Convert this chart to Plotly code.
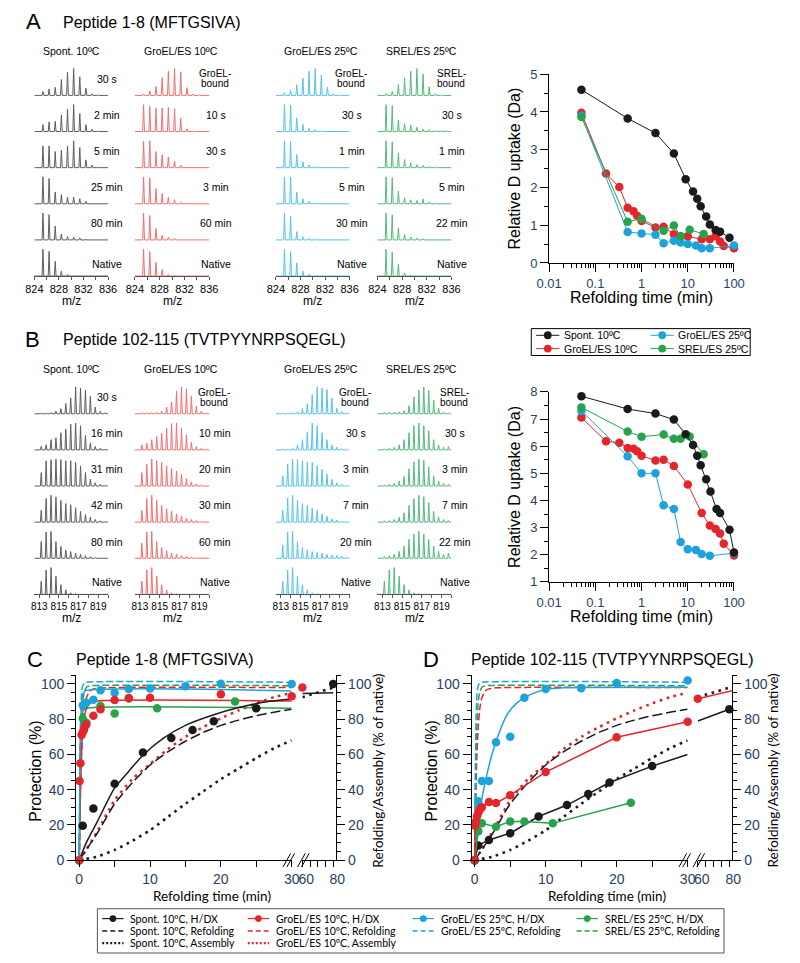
import plotly.graph_objects as go

W, H = 800, 963
ARIAL = "Liberation Sans, Arial, Helvetica, sans-serif"
HUM = "Lato, Open Sans, sans-serif"

# ---------------- spectra data (panels A, B) ----------------
MZ_A = [825.4, 826.4, 827.4, 828.4, 829.4, 830.4, 831.4, 832.4, 833.4, 834.4, 835.4]
MZ_B = [813.2, 813.7, 814.2, 814.7, 815.2, 815.7, 816.2, 816.7, 817.2, 817.7, 818.2, 818.7, 819.2, 819.7]
MZ_A_TICKS = [824, 826, 828, 830, 832, 834, 836]
MZ_A_TICKTEXT = ["824", "", "828", "", "832", "", "836"]
MZ_B_TICKS = [813, 814, 815, 816, 817, 818, 819, 820]
MZ_B_TICKTEXT = ["813", "", "815", "", "817", "", "819", ""]
CONDITIONS = ["Spont. 10ºC", "GroEL/ES 10ºC", "GroEL/ES 25ºC", "SREL/ES 25ºC"]

A_SPONT = [
    [0.15, 0.24, 0.30, 0.59, 0.87, 1.00, 0.69, 0.27, 0.06, 0.02],
    [0.26, 0.36, 0.38, 0.62, 0.83, 1.00, 0.67, 0.26, 0.09, 0.02],
    [0.81, 0.81, 0.60, 0.65, 0.81, 1.00, 0.75, 0.29, 0.10, 0.02],
    [1.00, 0.94, 0.44, 0.34, 0.25, 0.25, 0.19, 0.09, 0.02],
    [1.00, 0.94, 0.52, 0.22, 0.12, 0.10, 0.07, 0.02],
    [1.00, 0.92, 0.55, 0.18, 0.06, 0.02],
]
A_GRO10 = [
    [0.05, 0.17, 0.33, 0.66, 0.90, 1.00, 0.88, 0.29, 0.05, 0.02],
    [1.00, 0.94, 0.88, 0.88, 0.90, 0.85, 0.50, 0.10, 0.03],
    [0.98, 1.00, 0.60, 0.48, 0.40, 0.25, 0.09, 0.02],
    [1.00, 0.96, 0.56, 0.38, 0.25, 0.15, 0.06, 0.02],
    [1.00, 0.91, 0.43, 0.18, 0.10, 0.06, 0.02],
    [1.00, 0.91, 0.51, 0.24, 0.06, 0.02],
]
A_GRO25 = [
    [0.10, 0.19, 0.40, 0.65, 0.90, 1.00, 0.75, 0.31, 0.06, 0.02],
    [1.00, 0.98, 0.51, 0.27, 0.12, 0.07, 0.03],
    [1.00, 0.98, 0.49, 0.22, 0.10, 0.05, 0.02],
    [1.00, 1.00, 0.44, 0.19, 0.09, 0.04],
    [1.00, 0.88, 0.31, 0.12, 0.05, 0.03],
    [1.00, 0.91, 0.49, 0.18, 0.06],
]
A_SREL = [
    [0.06, 0.15, 0.41, 0.64, 0.90, 1.00, 0.80, 0.32, 0.06, 0.02],
    [1.00, 0.96, 0.43, 0.29, 0.23, 0.16, 0.09, 0.07, 0.05, 0.04, 0.03],
    [1.00, 0.96, 0.54, 0.30, 0.18, 0.11, 0.08, 0.05, 0.04],
    [1.00, 0.97, 0.48, 0.22, 0.15, 0.12, 0.18, 0.07, 0.04],
    [1.00, 0.93, 0.45, 0.20, 0.11, 0.07, 0.05],
    [1.00, 0.90, 0.44, 0.12, 0.04],
]
A_SPONT_LAB = ["30 s", "2 min", "5 min", "25 min", "80 min", "Native"]
A_GRO10_LAB = ["GroEL-\nbound", "10 s", "30 s", "3 min", "60 min", "Native"]
A_GRO25_LAB = ["GroEL-\nbound", "30 s", "1 min", "5 min", "30 min", "Native"]
A_SREL_LAB = ["SREL-\nbound", "30 s", "1 min", "5 min", "22 min", "Native"]

B_SPONT = [
    [0.03, 0.03, 0.05, 0.10, 0.19, 0.38, 0.59, 1.00, 0.96, 0.88, 0.65, 0.25, 0.09, 0.04],
    [0.13, 0.19, 0.38, 0.45, 0.64, 0.77, 0.96, 1.00, 0.90, 0.54, 0.26, 0.13, 0.06, 0.03],
    [0.50, 0.94, 0.98, 1.00, 0.98, 0.94, 0.94, 0.88, 0.75, 0.50, 0.25, 0.12, 0.06, 0.03],
    [0.44, 0.88, 1.00, 0.94, 0.81, 0.69, 0.65, 0.54, 0.40, 0.28, 0.19, 0.10, 0.05, 0.03],
    [0.62, 0.98, 1.00, 0.62, 0.44, 0.31, 0.25, 0.19, 0.15, 0.10, 0.06, 0.03],
    [0.49, 0.91, 1.00, 0.68, 0.36, 0.17, 0.06, 0.03],
]
B_GRO10 = [
    [0.04, 0.04, 0.05, 0.06, 0.10, 0.25, 0.44, 0.84, 1.00, 0.93, 0.65, 0.28, 0.10, 0.04],
    [0.19, 0.25, 0.38, 0.50, 0.62, 0.81, 0.98, 1.00, 0.81, 0.56, 0.28, 0.12, 0.06, 0.03],
    [0.50, 0.81, 1.00, 0.94, 0.88, 0.75, 0.65, 0.56, 0.44, 0.28, 0.15, 0.08, 0.04],
    [0.44, 0.88, 1.00, 0.81, 0.62, 0.50, 0.41, 0.31, 0.22, 0.15, 0.10, 0.06, 0.03],
    [0.56, 0.98, 1.00, 0.62, 0.40, 0.28, 0.20, 0.15, 0.11, 0.08, 0.05, 0.03],
    [0.49, 0.91, 1.00, 0.68, 0.36, 0.17, 0.06, 0.03],
]
B_GRO25 = [
    [0.03, 0.04, 0.05, 0.08, 0.19, 0.38, 0.71, 1.00, 0.96, 0.90, 0.59, 0.21, 0.08, 0.04],
    [0.04, 0.04, 0.06, 0.19, 0.38, 0.67, 1.00, 0.90, 0.64, 0.38, 0.19, 0.10, 0.05, 0.03],
    [0.38, 0.81, 1.00, 0.98, 0.94, 0.90, 0.88, 0.75, 0.62, 0.44, 0.25, 0.12, 0.06, 0.03],
    [0.44, 0.90, 1.00, 0.81, 0.69, 0.62, 0.52, 0.44, 0.31, 0.22, 0.12, 0.08, 0.04],
    [0.50, 0.98, 1.00, 0.62, 0.40, 0.31, 0.25, 0.22, 0.19, 0.15, 0.12, 0.10, 0.08, 0.05],
    [0.49, 0.91, 1.00, 0.68, 0.36, 0.17, 0.06, 0.03],
]
B_SREL = [
    [0.06, 0.06, 0.06, 0.07, 0.12, 0.30, 0.63, 0.88, 1.00, 0.88, 0.51, 0.21, 0.07, 0.04],
    [0.04, 0.06, 0.10, 0.19, 0.38, 0.64, 0.90, 1.00, 0.90, 0.71, 0.38, 0.19, 0.10, 0.12],
    [0.04, 0.06, 0.10, 0.19, 0.36, 0.64, 0.90, 1.00, 0.96, 0.71, 0.38, 0.19, 0.10, 0.06],
    [0.05, 0.06, 0.10, 0.18, 0.35, 0.62, 0.88, 1.00, 0.95, 0.72, 0.40, 0.20, 0.10, 0.06],
    [0.06, 0.10, 0.15, 0.26, 0.45, 0.70, 0.90, 1.00, 0.90, 0.70, 0.45, 0.26, 0.15, 0.19],
    [0.49, 0.91, 1.00, 0.68, 0.36, 0.17, 0.06, 0.03],
]
B_SPONT_LAB = ["30 s", "16 min", "31 min", "42 min", "80 min", "Native"]
B_GRO10_LAB = ["GroEL-\nbound", "10 min", "20 min", "30 min", "60 min", "Native"]
B_GRO25_LAB = ["GroEL-\nbound", "30 s", "3 min", "7 min", "20 min", "Native"]
B_SREL_LAB = ["SREL-\nbound", "30 s", "3 min", "7 min", "22 min", "Native"]

# ---------------- D uptake vs time (panel A right, panel B right) ----------------
LOG_TICKS = [0.01, 0.1, 1, 10, 100]
LOG_TICKTEXT = ["0.01", "0.1", "1", "10", "100"]
LOG_MINOR = [0.02, 0.03, 0.04, 0.05, 0.06, 0.07, 0.08, 0.09,
             0.2, 0.3, 0.4, 0.5, 0.6, 0.7, 0.8, 0.9,
             2, 3, 4, 5, 6, 7, 8, 9, 20, 30, 40, 50, 60, 70, 80, 90]

TA_SP = [0.05, 0.5, 2, 5, 9, 13, 16, 19, 25, 30, 40, 50, 80]
DA_SP = [4.59, 3.83, 3.44, 2.90, 2.22, 1.89, 1.70, 1.50, 1.23, 1.02, 0.87, 0.83, 0.67]
TA_G10 = [0.05, 0.17, 0.33, 0.5, 0.67, 0.8, 1, 2, 3, 5, 7, 10, 20, 30, 40, 50, 60, 100]
DA_G10 = [3.98, 2.37, 2.01, 1.46, 1.37, 1.25, 1.11, 0.94, 0.96, 0.76, 0.71, 0.70, 0.63, 0.63, 0.71, 0.57, 0.45, 0.39]
TA_G25 = [0.05, 0.5, 1, 2, 3, 5, 7, 10, 15, 20, 30, 100]
DA_G25 = [3.90, 0.82, 0.78, 0.75, 0.52, 0.59, 0.54, 0.50, 0.46, 0.39, 0.39, 0.46]
TA_SR = [0.05, 0.5, 1, 3, 5, 7, 11, 22]
DA_SR = [3.87, 1.09, 1.17, 0.85, 0.99, 0.70, 0.88, 0.77]

TB_SP = [0.05, 0.5, 2, 5, 9, 13, 16, 19, 25, 31, 42, 50, 80, 100]
DB_SP = [7.84, 7.37, 7.20, 6.98, 6.44, 6.04, 5.65, 5.30, 4.78, 4.33, 3.69, 3.54, 2.92, 2.08]
TB_G10 = [0.05, 0.17, 0.33, 0.5, 0.67, 0.8, 1, 2, 3, 5, 10, 20, 30, 40, 50, 60, 100]
DB_G10 = [7.06, 6.18, 6.13, 5.93, 5.91, 5.81, 5.65, 5.47, 5.50, 5.27, 4.59, 3.54, 3.08, 2.95, 2.78, 2.41, 1.97]
TB_G25 = [0.05, 0.5, 1, 2, 3, 5, 7, 10, 15, 20, 30, 100]
DB_G25 = [7.30, 5.63, 5.00, 5.00, 3.82, 3.69, 2.47, 2.20, 2.18, 2.03, 1.96, 2.06]
TB_SR = [0.05, 0.5, 1, 3, 5, 7, 11, 22]
DB_SR = [7.43, 6.54, 6.35, 6.43, 6.27, 6.27, 6.36, 5.70]

# ---------------- protection / refolding (panels C, D) ----------------
REF_SP_T = [0, 2.5, 5, 7.5, 10, 12.5, 15, 17.5, 20, 22.5, 25, 27.5, 30]
REF_SP_P = [0, 15, 32, 44, 54, 61.5, 67.5, 72.5, 76.5, 79.5, 82, 84, 85.7]
REF_G10_T = [0, 0.25, 0.5, 0.75, 1.0, 1.5, 2.0, 3.0, 30]
REF_G10_P = [0, 52, 76, 87, 92, 96, 97.2, 97.8, 98]
REF_G25_T = [0, 0.1, 0.2, 0.3, 0.45, 0.7, 1.0, 30]
REF_G25_P = [0, 55, 82, 93, 98.5, 100.5, 101, 101]
REF_SR_T = [0, 0.15, 0.3, 0.5, 0.75, 1.1, 1.6, 30]
REF_SR_P = [0, 50, 76, 90, 96, 98.5, 99, 99]
ASM_SP_T = [0, 2.5, 5, 7.5, 10, 12.5, 15, 17.5, 20, 22.5, 25, 27.5, 30]
ASM_SP_P = [0, 2, 5.8, 11, 17, 24.5, 32, 39, 46, 52, 58, 63.5, 68]
ASM_SP_T2 = [60, 82]
ASM_SP_P2 = [92.5, 98.5]
ASM_G10_T = [0, 1, 2.5, 5, 7.5, 10, 12.5, 15, 17.5, 20, 22.5, 25, 27.5, 30]
ASM_G10_P = [0, 6, 16, 34, 46, 54.5, 63, 70, 75.5, 80.5, 85, 89, 92.5, 95]

C_SP_T = [0, 0.5, 2, 5, 9, 13, 16, 19, 25]
C_SP_P = [0, 19.6, 29.4, 43.4, 61.1, 69.3, 73.9, 78.8, 86.2]
C_SP_T2 = [80]
C_SP_P2 = [100]
C_G10_T = [0, 0.05, 0.17, 0.33, 0.5, 0.67, 0.8, 1, 2, 3, 5, 7, 10, 20, 30]
C_G10_P = [0, 45, 55, 71, 72.6, 74, 76, 77, 82, 85.7, 90.9, 92, 92.2, 94.2, 93]
C_G10_T2 = [60]
C_G10_P2 = [98]
C_G25_T = [0, 0.5, 1, 2, 3, 5, 7, 10, 15, 20, 30]
C_G25_P = [0, 88, 89.4, 91, 96.5, 95, 97.2, 97.4, 98.7, 100.2, 100]
C_SR_T = [0, 0.5, 1, 3, 5, 7, 11, 22]
C_SR_P = [0, 80.4, 78, 87.5, 83.2, 91.8, 86.2, 90]
FIT_C_SP_T = [0, 1, 2.5, 5, 7, 9, 12, 15, 19, 22.5, 26, 30]
FIT_C_SP_P = [0, 10, 21.5, 41, 50.5, 59.6, 69.5, 76.5, 82.5, 86.6, 89.6, 91.6]
FIT_C_SP_T2 = [60, 80]
FIT_C_SP_P2 = [94.6, 95]
FIT_C_G10_T = [0, 0.15, 0.3, 0.5, 0.75, 1.0, 1.5, 2.2, 30]
FIT_C_G10_P = [0, 35, 58, 74, 82, 86, 89, 90.2, 90.3]
FIT_C_G25_T = [0, 0.1, 0.2, 0.35, 0.5, 0.8, 30]
FIT_C_G25_P = [0, 50, 78, 90, 94, 96, 96]
FIT_C_SR_T = [0, 0.1, 0.2, 0.35, 0.5, 0.8, 30]
FIT_C_SR_P = [0, 45, 70, 81, 84.5, 86, 86.2]

D_SP_T = [0, 0.5, 2, 5, 9, 13, 16, 19, 25]
D_SP_P = [0, 8.4, 11.5, 15.3, 24.8, 31.3, 37.6, 44.1, 53.4]
D_SP_EXT_T = [25, 30]
D_SP_EXT_P = [53.4, 60]
D_SP_LINE_T2 = [60, 80]
D_SP_LINE_P2 = [79, 85.7]
D_SP_T2 = [80]
D_SP_P2 = [85.7]
D_G10_T = [0, 0.05, 0.17, 0.33, 0.5, 0.67, 0.8, 1, 2, 3, 5, 10, 20, 30]
D_G10_P = [0, 19.6, 22, 25, 27, 28.5, 29.5, 30, 33, 32.4, 36.9, 50, 69.8, 78.6]
D_G10_LINE_T2 = [60, 100]
D_G10_LINE_P2 = [91.6, 100]
D_G10_T2 = [60]
D_G10_P2 = [91.6]
D_G25_T = [0, 0.5, 1, 2, 3, 5, 7, 10, 15, 20, 30]
D_G25_P = [0, 33.5, 45, 45, 67, 70, 92.2, 97.2, 97.6, 100.6, 102]
FIT_D_G25_T = [0, 0.3, 0.8, 1.5, 2.4, 3.3, 4.6, 6, 7.8, 10, 12.5, 15, 30]
FIT_D_G25_P = [0, 15, 30, 44.7, 59.6, 70.8, 82.9, 89.4, 94, 96.8, 97.8, 98, 98.1]
D_SR_T = [0, 0.5, 1, 3, 5, 7, 11, 22]
D_SR_P = [0, 16.4, 20.9, 19, 22, 22, 20.9, 32.6]

LEG_BOTTOM = [
    ["Spont. 10ºC, H/DX", "Spont. 10ºC, Refolding", "Spont. 10ºC, Assembly"],
    ["GroEL/ES 10ºC, H/DX", "GroEL/ES 10ºC, Refolding", "GroEL/ES 10ºC, Assembly"],
    ["GroEL/ES 25ºC, H/DX", "GroEL/ES 25ºC, Refolding"],
    ["SREL/ES 25ºC, H/DX", "SREL/ES 25ºC, Refolding"],
]

# ---------------- styling ----------------
BLACK, RED, BLUE, GREEN = "#1a1a1a", "#e3262b", "#1ea2dc", "#26a34b"
SPEC_COLORS = ["#5e5e5e", "#ee6f70", "#55c3e8", "#55b97d"]
DASH_LONG = "10px,4px"
DASH_COL = "7px,3px"
DOT = "2.6px,4.6px"

layout = dict(width=W, height=H, margin=dict(l=0, r=0, t=0, b=0),
              paper_bgcolor="white", plot_bgcolor="rgba(0,0,0,0)", showlegend=False)
annotations, shapes = [], []
fig = go.Figure()


def px_x(x):
    return x / W


def px_y(y):
    return 1 - y / H


def an(n):
    return "" if n == 1 else str(n)


def ann(text, x, y, size, family=ARIAL, xanchor="center", yanchor="middle", angle=0, color="black"):
    annotations.append(dict(text=text, x=px_x(x), y=px_y(y), xref="paper", yref="paper",
                            showarrow=False, xanchor=xanchor, yanchor=yanchor, textangle=angle,
                            font=dict(size=size, family=family, color=color)))


AX = dict(showgrid=False, zeroline=False, showline=True, linecolor="black", linewidth=1,
          ticks="outside", tickcolor="black", tickwidth=1, fixedrange=True, tickangle=0)


def scatter(xs, ys, xa, ya, mode, color, width=1.0, dash="solid", msize=8, shape="linear"):
    fig.add_trace(go.Scatter(
        x=xs, y=ys, xaxis="x" + an(xa), yaxis="y" + an(ya), mode=mode,
        line=dict(color=color, width=width, dash=dash, shape=shape, smoothing=0.6),
        marker=dict(size=msize, color=color, line=dict(width=0)),
        cliponaxis=False, hoverinfo="skip", showlegend=False))


# ---------------- spectra ----------------
SPACING = 36.7
PEAK_H = 27.3
YSPAN = 223.3
COL_X = [(22, 98), (125.7, 202.3), (271, 347), (375.7, 452)]
TITLE_X = [60, 173.3, 318, 421]


def spectrum_xy(mz, inten, base, lo, hi, w):
    xs, ys = [lo], [base]
    for m, h in zip(mz, inten):
        xs += [m - w, m, m + w]
        ys += [base, base + h * PEAK_H, base]
    xs.append(hi)
    ys.append(base)
    return xs, ys


spec_panels = [
    dict(sets=[A_SPONT, A_GRO10, A_GRO25, A_SREL],
         labs=[A_SPONT_LAB, A_GRO10_LAB, A_GRO25_LAB, A_SREL_LAB],
         mz=MZ_A, rng=[824, 836], tv=MZ_A_TICKS, tt=MZ_A_TICKTEXT, bottom=273.3, tfs=11,
         labx=[96.5, 209, 349.5, 453], title_y=45, w=0.14, mz_y=298.5),
    dict(sets=[B_SPONT, B_GRO10, B_GRO25, B_SREL],
         labs=[B_SPONT_LAB, B_GRO10_LAB, B_GRO25_LAB, B_SREL_LAB],
         mz=MZ_B, rng=[812.5, 820], tv=MZ_B_TICKS, tt=MZ_B_TICKTEXT, bottom=596.7, tfs=10,
         labx=[96.5, 208, 353.5, 456], title_y=368, w=0.085, mz_y=621),
]

n = 0
for P in spec_panels:
    for c in range(4):
        n += 1
        x0, x1 = COL_X[c]
        layout["xaxis" + an(n)] = dict(AX, domain=[px_x(x0), px_x(x1)], range=P["rng"],
                                       anchor="y" + an(n), tickvals=P["tv"], ticktext=P["tt"],
                                       ticklen=3, linecolor="#555", tickcolor="#555",
                                       tickfont=dict(size=P["tfs"], family=ARIAL, color="black"))
        layout["yaxis" + an(n)] = dict(domain=[px_y(P["bottom"]), px_y(P["bottom"] - YSPAN)],
                                       range=[0, YSPAN], visible=False, anchor="x" + an(n),
                                       fixedrange=True)
        for i, inten in enumerate(P["sets"][c]):
            base = (5 - i) * SPACING
            xs, ys = spectrum_xy(P["mz"], inten, base, P["rng"][0], P["rng"][1], P["w"])
            scatter(xs, ys, n, n, "lines", SPEC_COLORS[c], width=1.0)
            lab = P["labs"][c][i]
            by = P["bottom"] - base
            if "\n" in lab:
                l1, l2 = lab.split("\n")
                ann(l1, P["labx"][c] - 1, by - 22, 10)
                ann(l2, P["labx"][c] - 1, by - 11.8, 10)
            elif i == 5:
                ann(lab, P["labx"][c], by - 12.5, 10.5)
            else:
                ann(lab, P["labx"][c], by - 17, 10.5)
        ann(CONDITIONS[c], TITLE_X[c], P["title_y"], 10.5)
        ann("m/z", (x0 + x1) / 2, P["mz_y"], 12)

# ---------------- D-uptake plots ----------------
for (na, ylo, yhi, ybot, ytop, series) in [
    (9, 0, 5, 260, 68.3, [(TA_G10, DA_G10, RED), (TA_G25, DA_G25, BLUE), (TA_SR, DA_SR, GREEN), (TA_SP, DA_SP, BLACK)]),
    (10, 1, 8, 584, 391, [(TB_G10, DB_G10, RED), (TB_G25, DB_G25, BLUE), (TB_SR, DB_SR, GREEN), (TB_SP, DB_SP, BLACK)]),
]:
    layout["xaxis" + an(na)] = dict(AX, type="log", domain=[px_x(552.7), px_x(743.3)], range=[-2, 2],
                                    anchor="y" + an(na), tickvals=LOG_TICKS, ticktext=LOG_TICKTEXT,
                                    ticklen=8, tickfont=dict(size=13, family=ARIAL),
                                    minor=dict(tickvals=LOG_MINOR, ticks="outside", ticklen=4,
                                               tickcolor="black"))
    layout["yaxis" + an(na)] = dict(AX, domain=[px_y(ybot), px_y(ytop)], range=[ylo, yhi],
                                    anchor="x" + an(na), dtick=1, ticklen=8,
                                    tickfont=dict(size=13, family=ARIAL),
                                    minor=dict(dtick=0.5, ticks="outside", ticklen=4, tickcolor="black"))
    for (t, d, col) in series:
        scatter(t, d, na, na, "lines+markers", col, width=1.0, msize=8.5)
    ann("Relative D uptake (Da)", 517.5, (ybot + ytop) / 2, 16, angle=-90)
    ann("Refolding time (min)", 648, ybot + 35, 16)

shapes.append(dict(type="rect", xref="paper", yref="paper", x0=px_x(534.3), x1=px_x(760),
                   y0=px_y(354), y1=px_y(326.7), line=dict(color="black", width=1)))


def leg_line(x0, x1, y, color, width=1.0, dash="solid"):
    shapes.append(dict(type="line", xref="paper", yref="paper", x0=px_x(x0), x1=px_x(x1),
                       y0=px_y(y), y1=px_y(y), line=dict(color=color, width=width, dash=dash)))


def leg_dot(cx, cy, r, color):
    shapes.append(dict(type="circle", xref="paper", yref="paper", x0=px_x(cx - r), x1=px_x(cx + r),
                       y0=px_y(cy + r), y1=px_y(cy - r), fillcolor=color, line=dict(width=0)))


AB_ITEMS = [(CONDITIONS[0], BLACK, 0, 0), (CONDITIONS[2], BLUE, 1, 0),
            (CONDITIONS[1], RED, 0, 1), (CONDITIONS[3], GREEN, 1, 1)]
for (lab, col, cx, ry) in AB_ITEMS:
    gx = [539.3, 657.3][cx]
    y = [333.5, 347][ry]
    leg_line(gx, gx + 24, y, col, 1.0)
    leg_dot(gx + 12, y, 4, col)
    ann(lab, gx + 26.5, y, 10.5, xanchor="left")

# ---------------- panels C and D ----------------
Y_BOT, PXPU = 866.7, 1.79
Y_TOP = Y_BOT - 105 * PXPU
X_TICKS_L = [0, 5, 10, 15, 20, 25, 30]
X_TICKTEXT_L = ["0", "", "10", "", "20", "", "30"]
X_TICKS_R = [60, 65, 70, 75, 80]
X_TICKTEXT_R = ["60", "", "", "", "80"]


def cd_axes(xl, xr, yl, yr, lx0, lx1, rx0, rx1):
    tf = dict(size=14, family=ARIAL)
    layout["xaxis" + an(xl)] = dict(AX, domain=[px_x(lx0), px_x(lx1)], range=[-0.45, 30],
                                    anchor="y" + an(yl), tickvals=X_TICKS_L, ticktext=X_TICKTEXT_L,
                                    ticklen=6, tickfont=tf)
    layout["xaxis" + an(xr)] = dict(AX, domain=[px_x(rx0), px_x(rx1)], range=[60, 82],
                                    anchor="y" + an(yl), tickvals=X_TICKS_R, ticktext=X_TICKTEXT_R,
                                    ticklen=6, tickfont=tf, ticklabelshift=4)
    ycommon = dict(AX, range=[0, 105], tickvals=[0, 20, 40, 60, 80, 100], ticklen=8, tickfont=tf,
                   minor=dict(dtick=5, ticks="outside", ticklen=4, tickcolor="black"))
    layout["yaxis" + an(yl)] = dict(ycommon, domain=[px_y(Y_BOT), px_y(Y_TOP)], anchor="x" + an(xl))
    layout["yaxis" + an(yr)] = dict(ycommon, overlaying="y" + an(yl), anchor="x" + an(xr), side="right")
    for xc in (lx1 - 3, rx0 + 1):
        for off in (-2, 2):
            shapes.append(dict(type="line", xref="paper", yref="paper",
                               x0=px_x(xc + off - 4), x1=px_x(xc + off + 4),
                               y0=px_y(Y_BOT + 7), y1=px_y(Y_BOT - 7),
                               line=dict(color="black", width=1)))


def common_curves(xl, xr, yl):
    scatter(ASM_SP_T, ASM_SP_P, xl, yl, "lines", BLACK, width=2.6, dash=DOT, shape="spline")
    scatter(ASM_SP_T2, ASM_SP_P2, xr, yl, "lines", BLACK, width=2.6, dash=DOT)
    scatter(ASM_G10_T, ASM_G10_P, xl, yl, "lines", RED, width=2.6, dash=DOT, shape="spline")
    scatter(REF_SP_T, REF_SP_P, xl, yl, "lines", BLACK, width=1.5, dash=DASH_LONG, shape="spline")
    scatter(REF_G10_T, REF_G10_P, xl, yl, "lines", RED, width=1.5, dash=DASH_COL, shape="spline")
    scatter(REF_SR_T, REF_SR_P, xl, yl, "lines", GREEN, width=1.5, dash=DASH_COL, shape="spline")
    scatter(REF_G25_T, REF_G25_P, xl, yl, "lines", BLUE, width=1.5, dash=DASH_COL, shape="spline")


cd_axes(11, 12, 11, 12, 65, 287.3, 298.3, 333.3)
common_curves(11, 12, 11)
scatter(FIT_C_SR_T, FIT_C_SR_P, 11, 11, "lines", GREEN, width=1.5, shape="spline")
scatter(FIT_C_G10_T, FIT_C_G10_P, 11, 11, "lines", RED, width=1.5, shape="spline")
scatter(FIT_C_G25_T, FIT_C_G25_P, 11, 11, "lines", BLUE, width=1.5, shape="spline")
scatter(FIT_C_SP_T, FIT_C_SP_P, 11, 11, "lines", BLACK, width=1.5, shape="spline")
scatter(FIT_C_SP_T2, FIT_C_SP_P2, 12, 11, "lines", BLACK, width=1.5)
scatter(C_SP_T, C_SP_P, 11, 11, "markers", BLACK, msize=8.5)
scatter(C_SP_T2, C_SP_P2, 12, 12, "markers", BLACK, msize=8.5)
scatter(C_G25_T, C_G25_P, 11, 11, "markers", BLUE, msize=8.5)
scatter(C_SR_T, C_SR_P, 11, 11, "markers", GREEN, msize=8.5)
scatter(C_G10_T, C_G10_P, 11, 11, "markers", RED, msize=8.5)
scatter(C_G10_T2, C_G10_P2, 12, 11, "markers", RED, msize=8.5)

cd_axes(13, 14, 13, 14, 472.7, 695.5, 706, 741.7)
common_curves(13, 14, 13)
scatter(FIT_D_G25_T, FIT_D_G25_P, 13, 13, "lines", BLUE, width=1.5, shape="spline")
scatter(D_G25_T, D_G25_P, 13, 13, "markers", BLUE, msize=8.5)
scatter(D_SP_EXT_T, D_SP_EXT_P, 13, 13, "lines", BLACK, width=1.5)
scatter(D_SP_LINE_T2, D_SP_LINE_P2, 14, 13, "lines", BLACK, width=1.5)
scatter(D_SP_T, D_SP_P, 13, 13, "lines+markers", BLACK, width=1.5, msize=8.5)
scatter(D_SP_T2, D_SP_P2, 14, 14, "markers", BLACK, msize=8.5)
scatter(D_SR_T, D_SR_P, 13, 13, "lines+markers", GREEN, width=1.5, msize=8.5)
scatter(D_G10_LINE_T2, D_G10_LINE_P2, 14, 13, "lines", RED, width=1.5)
scatter(D_G10_T, D_G10_P, 13, 13, "lines+markers", RED, width=1.5, msize=8.5)
scatter(D_G10_T2, D_G10_P2, 14, 13, "markers", RED, msize=8.5)

for (lx, rx, tx) in [(23.5, 376, 205), (431.5, 783, 612)]:
    ann("Protection (%)", lx, 776, 16, angle=-90)
    ann("Refolding/Assembly (% of native)", rx, 776, 13.5, family=HUM, angle=-90)
    ann("Refolding time (min)", tx, 903, 13.5, family=HUM)

shapes.append(dict(type="rect", xref="paper", yref="paper", x0=px_x(87), x1=px_x(733),
                   y0=px_y(961), y1=px_y(916), line=dict(color="#555", width=1)))
LEG_COLX = [92, 242, 412, 581]
LEG_ROWY = [926, 938.5, 951]
LEG_COLORS = [BLACK, RED, BLUE, GREEN]
for c, items in enumerate(LEG_BOTTOM):
    gx = LEG_COLX[c]
    col = LEG_COLORS[c]
    for r, lab in enumerate(items):
        y = LEG_ROWY[r]
        if r == 0:
            leg_line(gx, gx + 22, y, col, 1.2)
            leg_dot(gx + 11, y, 3.5, col)
        elif r == 1:
            leg_line(gx, gx + 22, y, col, 1.5, "5px,3px")
        else:
            leg_line(gx, gx + 22, y, col, 2.2, "2px,2px")
        ann(lab, gx + 27, y, 10.5, family=HUM, xanchor="left")

ann("A", 21.5, 15, 22)
ann("Peptide 1-8 (MFTGSIVA)", 49, 16, 16, xanchor="left")
ann("B", 20.5, 337.5, 22)
ann("Peptide 102-115 (TVTPYYNRPSQEGL)", 49, 338, 16, xanchor="left")
ann("C", 22.5, 662.5, 22)
ann("Peptide 1-8 (MFTGSIVA)", 62.5, 663, 16, xanchor="left")
ann("D", 431, 663, 22)
ann("Peptide 102-115 (TVTPYYNRPSQEGL)", 470, 663, 16, xanchor="left")

layout["annotations"] = annotations
layout["shapes"] = shapes
fig.update_layout(**layout)
fig.write_html("out.html", config={"displayModeBar": False},
               post_script="document.body.style.margin='0px';")
